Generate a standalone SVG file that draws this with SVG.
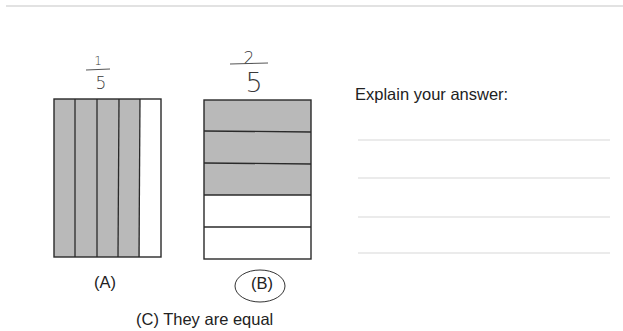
<svg xmlns="http://www.w3.org/2000/svg" width="623" height="331" viewBox="0 0 623 331">
<style>
.box{fill:none;stroke:#2a2a2a;stroke-width:1.4}
.div{stroke:#2a2a2a;stroke-width:1.3}
.shade{fill:#b9b9b9}
.lbl{font-family:"Liberation Sans",Arial,sans-serif;font-size:16.5px;fill:#222}
.hand{font-family:"DejaVu Sans",sans-serif;fill:#3a3a3a;font-weight:300}
.rule{stroke:#d8d8d8;stroke-width:1.2}
</style>
<rect width="623" height="331" fill="#fff"/>
<line x1="6" y1="6" x2="623" y2="6" stroke="#e2e2e2" stroke-width="2"/>
<g id="fracA">
<text class="hand" x="98" y="65" text-anchor="middle" font-size="12">1</text>
<line x1="86" y1="70" x2="110" y2="69" stroke="#555" stroke-width="1"/>
<text class="hand" x="101" y="89" text-anchor="middle" font-size="17">5</text>
</g>
<g id="fracB">
<text class="hand" x="249" y="64" text-anchor="middle" font-size="17">2</text>
<line x1="230" y1="64" x2="268" y2="63" stroke="#555" stroke-width="1"/>
<text class="hand" x="254" y="92" text-anchor="middle" font-size="27">5</text>
</g>
<g id="boxA">
<rect class="shade" x="54" y="99" width="86" height="158"/>
<rect class="box" x="54" y="99" width="107" height="158"/>
<line class="div" x1="75" y1="99" x2="75" y2="257"/>
<line class="div" x1="97" y1="99" x2="97" y2="257"/>
<line class="div" x1="119" y1="99" x2="118" y2="257"/>
<line class="div" x1="140" y1="99" x2="139" y2="257"/>
</g>
<g id="boxB">
<rect class="shade" x="204" y="100" width="107" height="95"/>
<rect class="box" x="204" y="100" width="107" height="159"/>
<line class="div" x1="204" y1="131" x2="311" y2="132"/>
<line class="div" x1="204" y1="163" x2="311" y2="164"/>
<line class="div" x1="204" y1="195" x2="311" y2="195"/>
<line class="div" x1="204" y1="227" x2="311" y2="227"/>
</g>
<g id="labelA"><text class="lbl" x="105" y="288" text-anchor="middle">(A)</text></g>
<g id="labelB">
<text class="lbl" x="262" y="289" text-anchor="middle">(B)</text>
<ellipse cx="260" cy="286" rx="25" ry="16" fill="none" stroke="#333" stroke-width="1"/>
</g>
<g id="labelC"><text class="lbl" x="136" y="325">(C) They are equal</text></g>
<g id="explain">
<text class="lbl" x="355" y="100">Explain your answer:</text>
<line class="rule" x1="358" y1="140" x2="610" y2="140"/>
<line class="rule" x1="358" y1="178" x2="610" y2="178"/>
<line class="rule" x1="358" y1="217" x2="610" y2="217"/>
<line class="rule" x1="358" y1="253" x2="610" y2="253"/>
</g>
</svg>
